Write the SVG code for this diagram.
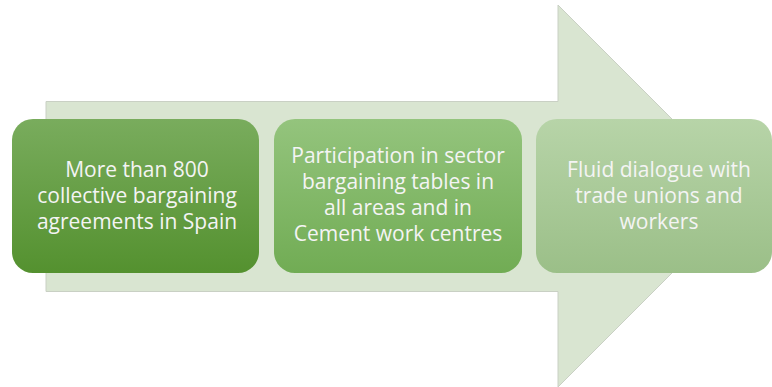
<svg xmlns="http://www.w3.org/2000/svg" width="772" height="387" viewBox="0 0 772 387">
  <defs>
    <linearGradient id="g1" x1="0" y1="0" x2="0" y2="1">
      <stop offset="0" stop-color="#79ac5d"/>
      <stop offset="1" stop-color="#54912f"/>
    </linearGradient>
    <linearGradient id="g2" x1="0" y1="0" x2="0" y2="1">
      <stop offset="0" stop-color="#94c47d"/>
      <stop offset="1" stop-color="#71ac54"/>
    </linearGradient>
    <linearGradient id="g3" x1="0" y1="0" x2="0" y2="1">
      <stop offset="0" stop-color="#b7d4a8"/>
      <stop offset="1" stop-color="#9bbf88"/>
    </linearGradient>
  </defs>
  <style>
    .lbl { font-family: "Open Sans", "Noto Sans", sans-serif; font-size: 21px; fill: #f4f4f4; text-anchor: middle; }
  </style>
  <rect width="772" height="387" fill="#ffffff"/>
  <g id="arrow">
    <polygon points="46,101.5 558,101.5 558,5 749,196 558,387 558,291.5 46,291.5" fill="#d9e5d1" stroke="#c9d0c4" stroke-width="1"/>
  </g>
  <g id="connectors"></g>
  <g id="node1">
    <rect x="12" y="119" width="247" height="154" rx="21" fill="url(#g1)"/>
    <text class="lbl" x="137" y="177">More than 800</text>
    <text class="lbl" x="137" y="203">collective bargaining</text>
    <text class="lbl" x="137" y="229">agreements in Spain</text>
  </g>
  <g id="node2">
    <rect x="274" y="119" width="248" height="154" rx="21" fill="url(#g2)"/>
    <text class="lbl" x="398" y="163">Participation in sector</text>
    <text class="lbl" x="398" y="189">bargaining tables in</text>
    <text class="lbl" x="398" y="215">all areas and in</text>
    <text class="lbl" x="398" y="241">Cement work centres</text>
  </g>
  <g id="node3">
    <rect x="536" y="119" width="236" height="154" rx="21" fill="url(#g3)"/>
    <text class="lbl" x="659" y="177">Fluid dialogue with</text>
    <text class="lbl" x="659" y="203">trade unions and</text>
    <text class="lbl" x="659" y="229">workers</text>
  </g>
</svg>
